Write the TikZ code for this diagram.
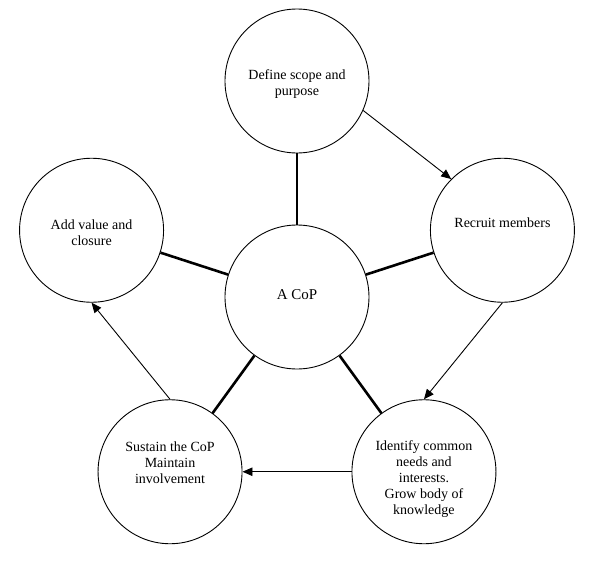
\documentclass[tikz,border=0pt]{standalone}
\usepackage{fontspec}
\setmainfont{Liberation Serif}
\usepackage{tikz}
\usetikzlibrary{arrows.meta, positioning, calc}

\begin{document}
\begin{tikzpicture}[
  stage/.style={draw, circle, minimum size=144pt, inner sep=0pt, line width=0.9pt},
  stagetext/.style={align=center, font=\fontsize{14}{16}\selectfont},
  spoke/.style={line width=2.6pt},
  flow/.style={line width=0.9pt, -{Triangle[length=10pt, width=8.5pt]}}
]
  \useasboundingbox (-297pt,-285pt) rectangle (303pt,297pt);

  % the six circles
  \node[stage] (hub) at (0,0) {};
  \node[stage] (scope) at (90:216pt) {};
  \node[stage] (recruit) at (18:216pt) {};
  \node[stage] (identify) at (-54:216pt) {};
  \node[stage] (sustain) at (-126:216pt) {};
  \node[stage] (addvalue) at (162:216pt) {};

  % their texts
  \node[stagetext, font=\fontsize{15}{17}\selectfont] (hub-txt) at ([yshift=2pt]hub.center) {A CoP};
  \node[stagetext] (scope-txt) at ([yshift=-3pt]scope.center) {Define scope and\\purpose};
  \node[stagetext] (recruit-txt) at ([yshift=7.5pt]recruit.center) {Recruit members};
  \node[stagetext] (identify-txt) at ([yshift=-7.5pt]identify.center) {Identify common\\needs and\\interests.\\Grow body of\\knowledge};
  \node[stagetext] (sustain-txt) at ([yshift=9pt]sustain.center) {Sustain the CoP\\Maintain\\involvement};
  \node[stagetext] (addvalue-txt) at ([yshift=-2pt]addvalue.center) {Add value and\\closure};

  % spokes
  \foreach \s in {scope, recruit, identify, sustain, addvalue}
    \draw[spoke] (hub) -- (\s);

  % the cycle
  \draw[flow] (scope.-24) -- (recruit.north west);
  \draw[flow] (recruit.south) -- (identify.north);
  \draw[flow] (identify.west) -- (sustain.east);
  \draw[flow] (sustain.north) -- (addvalue.south);
\end{tikzpicture}
\end{document}
